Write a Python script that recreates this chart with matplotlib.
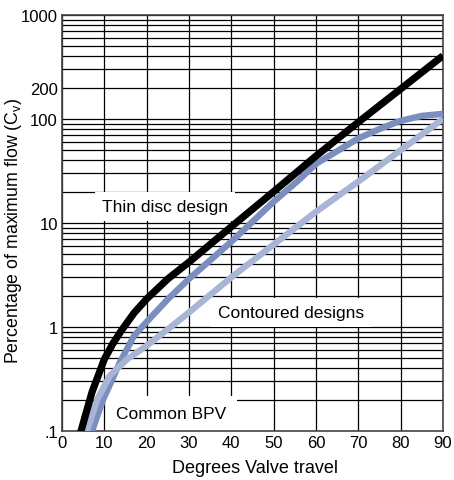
import numpy as np
import matplotlib
matplotlib.use("Agg")
import matplotlib.pyplot as plt
from matplotlib.ticker import LogLocator, NullFormatter

plt.rcParams['font.family'] = ['Liberation Sans', 'DejaVu Sans']

# Valve travel (degrees) vs percentage of maximum flow
thin_deg = [4.2, 4.5, 5.5, 7.1, 10, 12, 14, 17, 20, 25, 30, 40, 50, 60, 70, 80, 90]
thin_flow = [0.085, 0.1, 0.14, 0.237, 0.49, 0.69, 0.92, 1.36, 1.86, 2.9, 4.2,
             9.2, 20, 44, 93, 194, 405]

cont1_deg = [6.8, 7.1, 9.7, 11.5, 13.7, 17, 20, 25, 30, 40, 50, 56, 60, 65,
             70, 75, 80, 85, 90]
cont1_flow = [0.09, 0.1, 0.2, 0.29, 0.46, 0.82, 1.12, 1.85, 2.9, 6.6, 16, 26,
              37, 49, 65, 80, 96, 107, 112]

cont2_deg = [5.5, 5.9, 8.3, 11.3, 15.4, 20, 25, 30, 40, 50, 60, 70, 80, 90]
cont2_flow = [0.085, 0.1, 0.2, 0.34, 0.49, 0.66, 0.95, 1.38, 3.0, 6.2, 12.8,
              25, 50, 100]

x_ticks = [0, 10, 20, 30, 40, 50, 60, 70, 80, 90]
y_ticks = [0.1, 1, 10, 100, 200, 1000]
y_labels = ['.1', '1', '10', '100', '200', '1000']

fig = plt.figure(figsize=(4.54, 4.81), dpi=100)
ax = fig.add_axes([0.1366, 0.1019, 0.839, 0.865])

ax.set_yscale('log')
ax.set_xlim(0, 90)
ax.set_ylim(0.1, 1000)
ax.set_xticks(x_ticks)
ax.set_yticks(y_ticks, labels=y_labels)
ax.yaxis.set_minor_locator(LogLocator(base=10, subs=np.arange(2, 10)))
ax.yaxis.set_minor_formatter(NullFormatter())
ax.tick_params(which='both', length=0, labelsize=12)
ax.tick_params(axis='x', pad=3)
ax.tick_params(axis='y', pad=3)

ax.set_axisbelow(True)
ax.grid(True, which='major', axis='x', color='black', linewidth=0.9)
ax.grid(True, which='both', axis='y', color='black', linewidth=0.9)
for s in ax.spines.values():
    s.set_color('#444444')
    s.set_linewidth(1.2)

ax.plot(cont1_deg, cont1_flow, color='#7a8fbd', linewidth=4.6,
        solid_capstyle='butt', solid_joinstyle='round', zorder=3)
ax.plot(cont2_deg, cont2_flow, color='#a9b5d6', linewidth=4.6,
        solid_capstyle='butt', solid_joinstyle='round', zorder=4)
ax.plot(thin_deg, thin_flow, color='black', linewidth=5.2,
        solid_capstyle='butt', solid_joinstyle='round', zorder=5)

box = dict(boxstyle='square,pad=0.4', fc='white', ec='none')
ax.text(24.3, 14.3, 'Thin disc design', fontsize=12.5, ha='center', va='center',
        bbox=box, zorder=2)
ax.text(54.1, 1.39, 'Contoured designs', fontsize=12.5, ha='center', va='center',
        bbox=box, zorder=2)
ax.text(25.8, 0.146, 'Common BPV', fontsize=12.5, ha='center', va='center',
        bbox=dict(boxstyle='square,pad=0.6', fc='white', ec='none'), zorder=2)

ax.set_xlabel('Degrees Valve travel', fontsize=13)
ax.xaxis.set_label_coords(0.507, -0.068)
ax.set_ylabel('Percentage of maximum flow (C$_\\mathregular{v}$)', fontsize=12.8)
ax.yaxis.set_label_coords(-0.1, 0.483)

fig.savefig('out.png', dpi=100)
